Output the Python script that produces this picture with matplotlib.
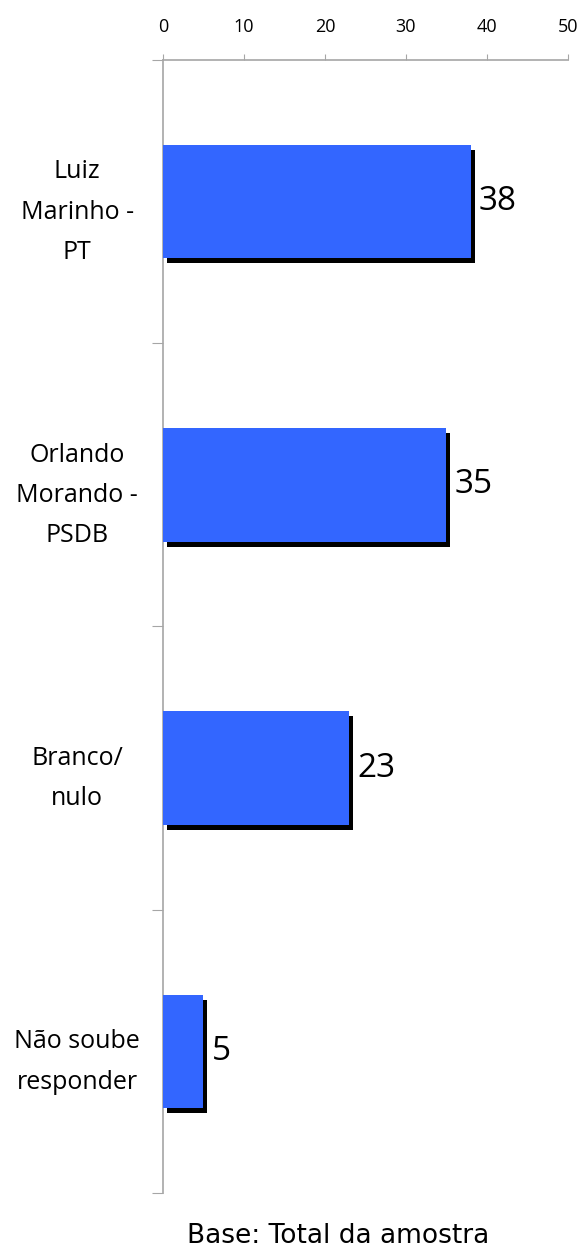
#!/usr/bin/env python

import matplotlib.pyplot as plt
import matplotlib.patheffects as pe
import numpy as np

categories = ["Luiz\nMarinho -\nPT", "Orlando\nMorando -\nPSDB", "Branco/\nnulo", "Não soube\nresponder"]
values = [38, 35, 23, 5]
xticks = [0, 10, 20, 30, 40, 50]

bar_color = "#3366FF"
axis_color = "#A6A6A6"

fig = plt.figure(figsize=(5.8, 12.48), dpi=100)
ax = fig.add_axes([0.281, 0.044, 0.698, 0.908])

pos = np.arange(len(categories))
bars = ax.barh(pos, values, height=0.4, color=bar_color, zorder=3)
for b in bars:
    b.set_path_effects([pe.SimplePatchShadow(offset=(2.9, -3.6), shadow_rgbFace="black", alpha=1.0),
                        pe.Normal()])

for p, v in zip(pos, values):
    ax.text(v + 1.0, p, str(v), va="center", ha="left", fontsize=24, family="Open Sans")

ax.set_xlim(0, 50)
ax.set_ylim(len(categories) - 0.5, -0.5)

ax.xaxis.tick_top()
ax.set_xticks(xticks)
ax.set_xticklabels([str(t) for t in xticks], fontsize=13, family="Open Sans")
ax.tick_params(axis="x", direction="out", length=4.3, color=axis_color, pad=13)

# band boundaries carry the tick marks, centres carry the labels
ax.set_yticks(np.arange(len(categories) + 1) - 0.5)
ax.set_yticklabels([])
ax.set_yticks(pos, minor=True)
ax.set_yticklabels(categories, minor=True, fontsize=18, family="Open Sans", ma="center", linespacing=1.8)
ax.tick_params(axis="y", which="major", direction="out", length=8, color=axis_color)
ax.tick_params(axis="y", which="minor", length=0)
for lab in ax.get_yticklabels(minor=True):
    lab.set_horizontalalignment("center")
    lab.set_x(-0.2)

for s in ["right", "bottom"]:
    ax.spines[s].set_visible(False)
for s in ["top", "left"]:
    ax.spines[s].set_color(axis_color)
    ax.spines[s].set_linewidth(1.2)

fig.text(0.583, 1 - 1243 / 1248, "Base: Total da amostra", ha="center", va="baseline", fontsize=19)

fig.savefig("out.png")
